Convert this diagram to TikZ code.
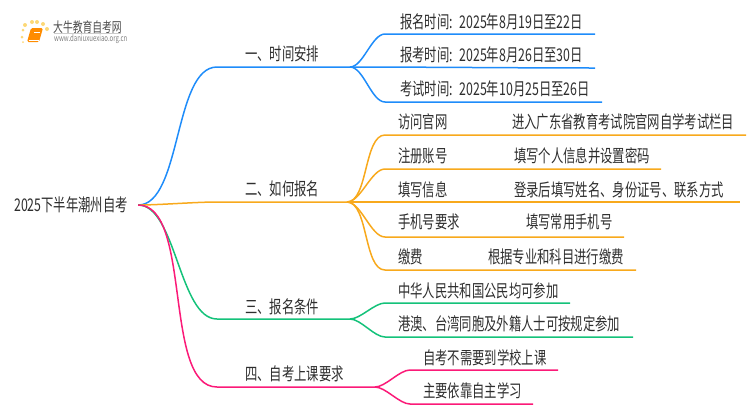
\documentclass[tikz,border=0pt]{standalone}
\usepackage{fontspec}
\newfontfamily\cjk[FakeStretch=0.705]{Noto Sans CJK SC}
\definecolor{cblue}{HTML}{1E8CFA}
\definecolor{corange}{HTML}{F8A91C}
\definecolor{cgreen}{HTML}{14C27A}
\definecolor{cpink}{HTML}{FB1A78}
\definecolor{ctext}{HTML}{2E2E2E}
\definecolor{cdot}{HTML}{FCD877}
\tikzset{
    txt/.style={anchor=west,inner sep=0pt,text=ctext,font=\cjk\fontsize{17.5}{17.5}\selectfont},
    rootnode/.style={txt,inner xsep=10pt},
    curve/.style={out=0,in=180,looseness=.7},
    bluedge/.style={-,line width=1.5pt,draw=cblue},
    orangedge/.style={-,line width=1.5pt,draw=corange},
    greenedge/.style={-,line width=1.5pt,draw=cgreen},
    pinkedge/.style={-,line width=1.5pt,draw=cpink},
    logodot/.style={circle,fill=cdot,inner sep=0pt,minimum size=4pt},
}
\begin{document}
\begin{tikzpicture}[x=1pt,y=-1pt]
\useasboundingbox (0,0) rectangle (750,410);
% logo
\node[logodot] (d1) at (25,25) {};
\node[logodot] (d2) at (32,22) {};
\node[logodot] (d3) at (37,22) {};
\node[logodot] (d4) at (43,24) {};
\node[logodot] (d5) at (47,29) {};
\node[logodot,minimum size=3pt] (d6) at (23,30) {};
\node[logodot,minimum size=3pt] (d7) at (22,37) {};
\node[logodot,minimum size=2pt] (d8) at (23,42) {};
\fill[orange!90!yellow,rounded corners=1.5pt] (31,28) -- (43,28) -- (39,42) -- (27,42) -- cycle;
\draw[white,line width=.6pt] (34,32) -- (40,32);
\draw[white,line width=.6pt] (28.5,40) -- (38.5,40);
\node[anchor=west,inner sep=0pt,text=ctext!85,font=\cjk\fontsize{13.9}{14}\selectfont] (logoname) at (53,27) {大牛教育自考网};
\draw[gray!40,line width=.5pt] (54,33) -- (121,33);
\node[anchor=west,inner sep=0pt,text=gray,font=\cjk\fontsize{8.6}{9}\selectfont] (logourl) at (54,39) {www.daniuxuexiao.org.cn};
% root
\node[rootnode] (root) at (4,205) {2025下半年潮州自考};
% branches
\node[txt] (b1) at (245,54) {一、时间安排};
\node[txt] (b2) at (245,189) {二、如何报名};
\node[txt] (b3) at (245,307) {三、报名条件};
\node[txt] (b4) at (245,374) {四、自考上课要求};
% leaves
\node[txt] (t1) at (400,22) {报名时间:\, 2025年8月19日至22日};
\node[txt] (t2) at (400,55) {报考时间:\, 2025年8月26日至30日};
\node[txt] (t3) at (400,89) {考试时间:\, 2025年10月25日至26日};
\node[txt] (h1) at (398,122) {访问官网};
\node[txt] (h1r) at (512,122) {进入广东省教育考试院官网自学考试栏目};
\node[txt] (h2) at (398,156) {注册账号};
\node[txt] (h2r) at (514,156) {填写个人信息并设置密码};
\node[txt] (h3) at (398,190) {填写信息};
\node[txt] (h3r) at (514,190) {登录后填写姓名、身份证号、联系方式};
\node[txt] (h4) at (398,222) {手机号要求};
\node[txt] (h4r) at (526,222) {填写常用手机号};
\node[txt] (h5) at (398,257) {缴费};
\node[txt] (h5r) at (488,257) {根据专业和科目进行缴费};
\node[txt] (c1) at (398,291) {中华人民共和国公民均可参加};
\node[txt] (c2) at (398,324) {港澳、台湾同胞及外籍人士可按规定参加};
\node[txt] (k1) at (423,358) {自考不需要到学校上课};
\node[txt] (k2) at (423,391) {主要依靠自主学习};
% connector points
\coordinate (s1) at (217,67); \coordinate (f1) at (350,67);
\coordinate (s2) at (217,202); \coordinate (f2) at (347,202);
\coordinate (s3) at (217,319); \coordinate (f3) at (350,319);
\coordinate (s4) at (217,387); \coordinate (f4) at (375,387);
\coordinate (t1s) at (385,34); \coordinate (t1e) at (595,34);
\coordinate (t2e) at (595,68);
\coordinate (t3s) at (385,102); \coordinate (t3e) at (602,102);
\coordinate (h1s) at (385,135); \coordinate (h1e) at (746,135);
\coordinate (h2s) at (385,169); \coordinate (h2e) at (661,169);
\coordinate (h3e) at (740,202);
\coordinate (h4s) at (385,237); \coordinate (h4e) at (624,237);
\coordinate (h5s) at (385,270); \coordinate (h5e) at (636,270);
\coordinate (c1s) at (385,303); \coordinate (c1e) at (570,303);
\coordinate (c2s) at (385,337); \coordinate (c2e) at (633,337);
\coordinate (k1s) at (410,370); \coordinate (k1e) at (558,370);
\coordinate (k2s) at (410,404); \coordinate (k2e) at (533,404);
% edges
\draw[bluedge] (root.east) to[curve] (s1) -- (f1);
\draw[orangedge] (root.east) to[curve] (s2) -- (f2);
\draw[greenedge] (root.east) to[curve] (s3) -- (f3);
\draw[pinkedge] (root.east) to[curve] (s4) -- (f4);
\draw[bluedge] (f1) to[curve] (t1s) -- (t1e);
\draw[bluedge] (f1) to[curve] (t2e);
\draw[bluedge] (f1) to[curve] (t3s) -- (t3e);
\draw[orangedge] (f2) to[curve] (h1s) -- (h1e);
\draw[orangedge] (f2) to[curve] (h2s) -- (h2e);
\draw[orangedge] (f2) -- (h3e);
\draw[orangedge] (f2) to[curve] (h4s) -- (h4e);
\draw[orangedge] (f2) to[curve] (h5s) -- (h5e);
\draw[greenedge] (f3) to[curve] (c1s) -- (c1e);
\draw[greenedge] (f3) to[curve] (c2s) -- (c2e);
\draw[pinkedge] (f4) to[curve] (k1s) -- (k1e);
\draw[pinkedge] (f4) to[curve] (k2s) -- (k2e);
\end{tikzpicture}
\end{document}
